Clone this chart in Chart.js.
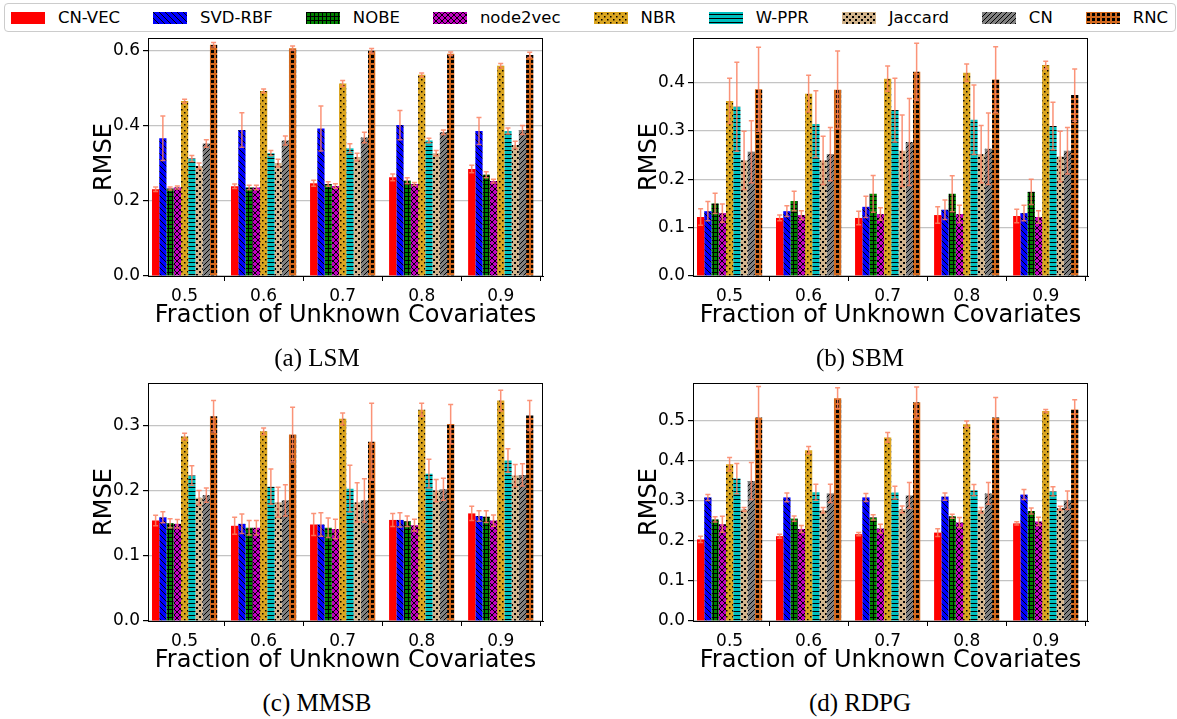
<!DOCTYPE html>
<html><head><meta charset="utf-8">
<script src="https://cdn.jsdelivr.net/npm/chart.js@4.4.0/dist/chart.umd.min.js"></script>
<style>
html,body{margin:0;padding:0;background:#fff;}
body{width:1177px;height:719px;position:relative;overflow:hidden;font-family:"DejaVu Sans",sans-serif;}
.cv{position:absolute;}
#legend{position:absolute;left:4px;top:3px;width:1172px;height:29px;border:1px solid #cccccc;border-radius:4px;display:flex;flex-wrap:nowrap;align-items:center;box-sizing:border-box;padding-left:6px;background:#fff;white-space:nowrap;}
.item{display:flex;align-items:center;margin-right:33px;flex:0 0 auto;white-space:nowrap;}
.item canvas{width:34px;height:12px;margin-right:13px;display:block;}
.item span{font-size:16.5px;color:#000;line-height:20px;white-space:nowrap;}
.cap{position:absolute;font-family:"Liberation Serif","Times New Roman",serif;font-size:25px;line-height:25px;color:#000;transform:translateX(-50%);white-space:nowrap;}
</style></head><body>
<div id="legend"></div>
<canvas id="c0" class="cv"></canvas>
<canvas id="c1" class="cv"></canvas>
<canvas id="c2" class="cv"></canvas>
<canvas id="c3" class="cv"></canvas>
<div class="cap" style="left:317px;top:345px">(a) LSM</div>
<div class="cap" style="left:860px;top:345px">(b) SBM</div>
<div class="cap" style="left:317px;top:690px">(c) MMSB</div>
<div class="cap" style="left:860px;top:690px">(d) RDPG</div>
<script>
// ---------- data ----------
const methods = ['CN-VEC','SVD-RBF','NOBE','node2vec','NBR','W-PPR','Jaccard','CN','RNC'];
const fractions = ['0.5','0.6','0.7','0.8','0.9'];
const captions = ['(a) LSM','(b) SBM','(c) MMSB','(d) RDPG'];

// rows follow `methods`, columns follow `fractions`
const lsmMean = [
  [0.231,0.239,0.247,0.263,0.285],
  [0.367,0.389,0.393,0.402,0.386],
  [0.233,0.236,0.245,0.254,0.270],
  [0.236,0.236,0.240,0.245,0.253],
  [0.466,0.493,0.513,0.536,0.560],
  [0.313,0.327,0.340,0.361,0.386],
  [0.293,0.301,0.317,0.327,0.349],
  [0.353,0.361,0.369,0.383,0.389],
  [0.616,0.607,0.600,0.592,0.589]
];
const lsmErr = [
  [0.006,0.006,0.008,0.009,0.010],
  [0.059,0.046,0.060,0.039,0.036],
  [0.004,0.006,0.006,0.008,0.008],
  [0.004,0.006,0.006,0.004,0.005],
  [0.005,0.005,0.008,0.005,0.006],
  [0.008,0.007,0.012,0.006,0.008],
  [0.008,0.010,0.010,0.007,0.010],
  [0.010,0.012,0.014,0.006,0.012],
  [0.006,0.006,0.006,0.005,0.007]
];
const sbmMean = [
  [0.122,0.120,0.120,0.126,0.124],
  [0.134,0.134,0.143,0.137,0.130],
  [0.150,0.155,0.170,0.170,0.174],
  [0.130,0.126,0.128,0.128,0.122],
  [0.362,0.377,0.408,0.420,0.436],
  [0.350,0.314,0.343,0.323,0.310],
  [0.239,0.239,0.259,0.252,0.247],
  [0.257,0.252,0.277,0.263,0.259],
  [0.386,0.385,0.422,0.406,0.374]
];
const sbmErr = [
  [0.017,0.006,0.014,0.017,0.014],
  [0.020,0.011,0.022,0.020,0.016],
  [0.021,0.020,0.038,0.037,0.026],
  [0.019,0.009,0.013,0.018,0.013],
  [0.047,0.038,0.026,0.018,0.008],
  [0.092,0.069,0.066,0.072,0.049],
  [0.060,0.050,0.074,0.059,0.052],
  [0.064,0.055,0.090,0.074,0.048],
  [0.087,0.080,0.059,0.068,0.054]
];
const mmsbMean = [
  [0.154,0.146,0.148,0.155,0.165],
  [0.159,0.149,0.148,0.155,0.161],
  [0.150,0.143,0.143,0.153,0.160],
  [0.149,0.143,0.141,0.147,0.154],
  [0.283,0.291,0.310,0.324,0.338],
  [0.223,0.206,0.203,0.226,0.246],
  [0.189,0.182,0.182,0.200,0.223],
  [0.193,0.185,0.185,0.202,0.224],
  [0.314,0.286,0.275,0.302,0.315]
];
const mmsbErr = [
  [0.008,0.013,0.017,0.010,0.011],
  [0.0085,0.015,0.018,0.011,0.008],
  [0.007,0.011,0.015,0.008,0.009],
  [0.0065,0.011,0.015,0.009,0.0085],
  [0.005,0.005,0.009,0.010,0.016],
  [0.015,0.027,0.036,0.022,0.018],
  [0.011,0.023,0.030,0.017,0.017],
  [0.011,0.024,0.033,0.017,0.017],
  [0.024,0.042,0.059,0.030,0.023]
];
const rdpgMean = [
  [0.204,0.212,0.217,0.221,0.244],
  [0.309,0.309,0.309,0.311,0.316],
  [0.254,0.256,0.259,0.262,0.275],
  [0.242,0.230,0.231,0.246,0.249],
  [0.392,0.427,0.459,0.492,0.525],
  [0.356,0.322,0.321,0.327,0.324],
  [0.279,0.277,0.279,0.277,0.282],
  [0.350,0.319,0.314,0.319,0.302],
  [0.509,0.557,0.547,0.509,0.529]
];
const rdpgErr = [
  [0.008,0.005,0.004,0.0096,0.004],
  [0.0075,0.011,0.010,0.009,0.0125],
  [0.0067,0.0067,0.0067,0.005,0.0075],
  [0.020,0.009,0.011,0.0125,0.0104],
  [0.017,0.009,0.012,0.0083,0.004],
  [0.038,0.020,0.016,0.014,0.0117],
  [0.0046,0.0067,0.0083,0.0067,0.005],
  [0.046,0.023,0.032,0.027,0.023],
  [0.077,0.026,0.038,0.050,0.024]
];
const yMax = [0.634, 0.492, 0.365, 0.595];
const yStep = [0.2, 0.1, 0.1, 0.1];

// ---------- styling ----------
const FONT = '"DejaVu Sans", sans-serif';
const ERR_COLOR = 'rgba(250,128,96,0.85)';
const baseColors = ['#ff0000','#0000ff','#008000','#bf00bf','#daa520','#00bfbf','#d2b48c','#808080','#d2691e'];

function tile(bg, s, draw){
  const c = document.createElement('canvas'); c.width = s; c.height = s;
  const g = c.getContext('2d');
  g.fillStyle = bg; g.fillRect(0,0,s,s);
  g.fillStyle = '#000'; g.strokeStyle = '#000'; g.lineWidth = 1;
  if (draw) draw(g, s);
  return c;
}
const hatchDraw = [
  null,
  (g,s)=>{ g.beginPath(); for (const o of [-s,0,s]) { g.moveTo(o,0); g.lineTo(o+s,s); } g.stroke(); },
  (g,s)=>{ g.fillRect(0,0,s,1); g.fillRect(0,0,1,s); },
  (g,s)=>{ g.beginPath(); for (const o of [-s,0,s]) { g.moveTo(o,0); g.lineTo(o+s,s); g.moveTo(o,s); g.lineTo(o+s,0);} g.stroke(); },
  (g,s)=>{ g.fillRect(1,1,1.5,1.5); g.fillRect(4,4,1.5,1.5); },
  (g,s)=>{ g.fillRect(0,2,s,1); },
  (g,s)=>{ g.fillRect(1,1,2,2); g.fillRect(4,4,2,2); },
  (g,s)=>{ g.beginPath(); for (const o of [-s,0,s]) { g.moveTo(o,s); g.lineTo(o+s,0); } g.stroke(); },
  (g,s)=>{ g.fillRect(1,1,3,3); }
];
const tileSize = [4,6,4,6,6,4,6,5,5];
function fillFor(i, ctx){
  const t = tile(baseColors[i], tileSize[i], hatchDraw[i]);
  return ctx.createPattern(t, 'repeat');
}

// ---------- legend ----------
const legend = document.getElementById('legend');
methods.forEach((m,i)=>{
  const it = document.createElement('div'); it.className = 'item';
  const c = document.createElement('canvas'); c.width = 34; c.height = 12;
  const g = c.getContext('2d'); g.fillStyle = fillFor(i, g); g.fillRect(0,0,34,12);
  const sp = document.createElement('span'); sp.textContent = m;
  it.appendChild(c); it.appendChild(sp); legend.appendChild(it);
});

// ---------- charts ----------
const panels = [
  {id:'c0', mean:lsmMean,  err:lsmErr,  left:148, top:38},
  {id:'c1', mean:sbmMean,  err:sbmErr,  left:693, top:38},
  {id:'c2', mean:mmsbMean, err:mmsbErr, left:148, top:383},
  {id:'c3', mean:rdpgMean, err:rdpgErr, left:693, top:383}
];
const PW = 395, PH = 238, YW = 88, XH = 54, PADT = 14, PADR = 12;

function errPlugin(errs){
  return {
    id:'errbars',
    afterDatasetsDraw(chart){
      const ctx = chart.ctx, ys = chart.scales.y;
      ctx.save(); ctx.strokeStyle = ERR_COLOR; ctx.lineWidth = 1.5;
      chart.data.datasets.forEach((ds,i)=>{
        chart.getDatasetMeta(i).data.forEach((bar,j)=>{
          const v = ds.data[j].y, e = errs[i][j];
          const y1 = ys.getPixelForValue(v+e), y2 = ys.getPixelForValue(v-e), x = bar.x;
          ctx.beginPath();
          ctx.moveTo(x,y1); ctx.lineTo(x,y2);
          ctx.moveTo(x-2.5,y1); ctx.lineTo(x+2.5,y1);
          ctx.moveTo(x-2.5,y2); ctx.lineTo(x+2.5,y2);
          ctx.stroke();
        });
      });
      ctx.restore();
    }
  };
}
const framePlugin = {
  id:'frame',
  afterDraw(chart){
    const {ctx, chartArea:a} = chart;
    ctx.save(); ctx.strokeStyle = '#000'; ctx.lineWidth = 1;
    ctx.strokeRect(Math.round(a.left)+0.5, Math.round(a.top)+0.5, Math.round(a.right-a.left)-1, Math.round(a.bottom-a.top));
    ctx.restore();
  }
};

panels.forEach((p,k)=>{
  const cv = document.getElementById(p.id);
  const W = YW + PW + PADR, H = PADT + PH + XH;
  cv.width = W; cv.height = H;
  cv.style.left = (p.left - YW) + 'px'; cv.style.top = (p.top - PADT) + 'px';
  cv.style.width = W + 'px'; cv.style.height = H + 'px';
  const ctx = cv.getContext('2d');
  const datasets = methods.map((m,i)=>({
    label: m,
    data: p.mean[i].map((v,j)=>({x:j, y:v})),
    backgroundColor: fillFor(i, ctx),
    borderWidth: 0,
    categoryPercentage: 0.825,
    barPercentage: 1.0
  }));
  new Chart(ctx, {
    type:'bar',
    data:{datasets},
    options:{
      responsive:false, animation:false, devicePixelRatio:1,
      layout:{padding:{top:PADT, right:PADR, left:0, bottom:0}},
      plugins:{legend:{display:false}, tooltip:{enabled:false}},
      scales:{
        x:{
          type:'linear', min:-0.463, max:4.535, offset:false,
          afterBuildTicks: ax => { ax.ticks = fractions.map((_,i)=>({value:i})); },
          ticks:{ callback:(v)=>fractions[v] ?? '', font:{family:FONT, size:17}, color:'#000', padding:5, maxRotation:0, autoSkip:false },
          grid:{ display:true, drawOnChartArea:false, drawTicks:true, tickLength:5, tickColor:'#000', tickWidth:1 },
          border:{ display:true, color:'#000', width:1 },
          title:{ display:true, text:'Fraction of Unknown Covariates', font:{family:FONT, size:24}, color:'#000', padding:{top:0, bottom:0} },
          afterFit: s => { s.height = XH; }
        },
        y:{
          min:0, max:yMax[k],
          ticks:{ stepSize:yStep[k], includeBounds:false, callback:v=>Number(v).toFixed(1), font:{family:FONT, size:17}, color:'#000', padding:3 },
          grid:{ color:'#c4c4c4', lineWidth:1.2, tickColor:'#000', tickLength:5, drawTicks:true },
          border:{ display:true, color:'#000', width:1 },
          title:{ display:true, text:'RMSE', font:{family:FONT, size:24}, color:'#000', padding:{top:30, bottom:0} },
          afterFit: s => { s.width = YW; }
        }
      }
    },
    plugins:[errPlugin(p.err), framePlugin]
  });
});
</script>
</body></html>
